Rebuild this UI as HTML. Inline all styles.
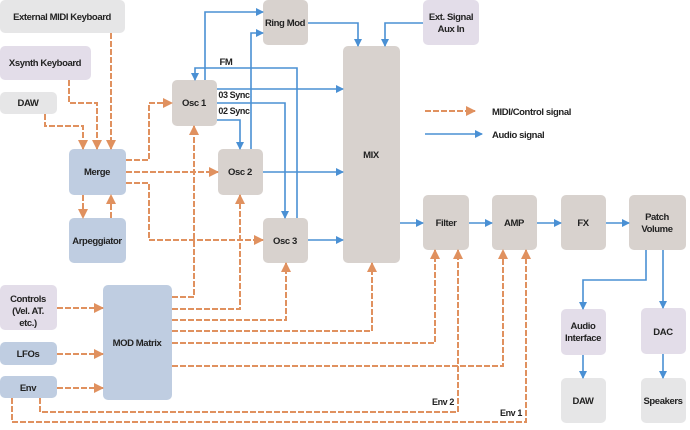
<!DOCTYPE html>
<html><head><meta charset="utf-8"><style>
html,body{margin:0;padding:0;background:#fff;}
svg text{font-family:"Liberation Sans",sans-serif;font-size:9.5px;font-weight:bold;fill:#222;text-anchor:middle;letter-spacing:-0.4px;}
</style></head><body>
<svg width="690" height="425" viewBox="0 0 690 425" xmlns="http://www.w3.org/2000/svg">
<defs>
<marker id="ao" markerWidth="10" markerHeight="10" refX="9" refY="5" orient="auto" markerUnits="userSpaceOnUse"><path d="M0,0 L10,5 L0,10 z" fill="#e0915f"/></marker>
<marker id="ab" markerWidth="8" markerHeight="8" refX="7" refY="4" orient="auto" markerUnits="userSpaceOnUse"><path d="M0,0 L8,4 L0,8 z" fill="#4a90d4"/></marker>
</defs>
<g>
<rect x="0" y="0" width="125" height="33" rx="5" fill="#e6e6e7"/>
<rect x="0" y="46" width="91" height="34" rx="5" fill="#e3dde9"/>
<rect x="0" y="92" width="57" height="22" rx="5" fill="#e6e6e7"/>
<rect x="69" y="149" width="57" height="46" rx="5" fill="#bfcde1"/>
<rect x="69" y="218" width="57" height="45" rx="5" fill="#bfcde1"/>
<rect x="172" y="80" width="45" height="46" rx="5" fill="#d8d2ce"/>
<rect x="218" y="149" width="45" height="46" rx="5" fill="#d8d2ce"/>
<rect x="263" y="0" width="45" height="45" rx="5" fill="#d8d2ce"/>
<rect x="263" y="218" width="45" height="45" rx="5" fill="#d8d2ce"/>
<rect x="343" y="46" width="57" height="217" rx="5" fill="#d8d2ce"/>
<rect x="423" y="0" width="56" height="45" rx="5" fill="#e3dde9"/>
<rect x="423" y="195" width="46" height="55" rx="5" fill="#d8d2ce"/>
<rect x="492" y="195" width="45" height="55" rx="5" fill="#d8d2ce"/>
<rect x="561" y="195" width="45" height="55" rx="5" fill="#d8d2ce"/>
<rect x="629" y="195" width="57" height="55" rx="5" fill="#d8d2ce"/>
<rect x="561" y="309" width="45" height="46" rx="5" fill="#e3dde9"/>
<rect x="641" y="308" width="45" height="46" rx="5" fill="#e3dde9"/>
<rect x="561" y="378" width="45" height="45" rx="5" fill="#e6e6e7"/>
<rect x="641" y="378" width="45" height="45" rx="5" fill="#e6e6e7"/>
<rect x="0" y="285" width="57" height="45" rx="5" fill="#e3dde9"/>
<rect x="0" y="342" width="57" height="23" rx="5" fill="#bfcde1"/>
<rect x="0" y="376" width="57" height="22" rx="5" fill="#bfcde1"/>
<rect x="103" y="285" width="69" height="115" rx="5" fill="#bfcde1"/>
</g>
<g fill="none" stroke="#e0915f" stroke-width="2" stroke-dasharray="6,2" marker-end="url(#ao)">
<path d="M111,33 V149"/>
<path d="M69,80 V103 H97 V149"/>
<path d="M45,114 V126 H83 V149"/>
<path d="M126,160 H149 V103 H172"/>
<path d="M126,172 H218"/>
<path d="M126,183 H149 V240 H263"/>
<path d="M83,195 V218"/>
<path d="M111,218 V195"/>
<path d="M172,297 H194 V126"/>
<path d="M172,309 H240 V195"/>
<path d="M172,320 H286 V263"/>
<path d="M172,331 H372 V263"/>
<path d="M172,343 H435 V250"/>
<path d="M172,366 H503 V250"/>
<path d="M57,308 H103"/>
<path d="M57,354 H103"/>
<path d="M57,388 H103"/>
<path d="M40,398 V412 H458 V250"/>
<path d="M12,398 V422 H526 V250"/>
<path d="M425,111 H475"/>
</g>
<g fill="none" stroke="#4a90d4" stroke-width="1.6" marker-end="url(#ab)">
<path d="M205,80 V12 H263"/>
<path d="M251,149 V33 H263"/>
<path d="M297,218 V68 H195 V80"/>
<path d="M217,89 H343"/>
<path d="M217,103 H285 V218"/>
<path d="M217,120 H240 V149"/>
<path d="M263,172 H343"/>
<path d="M308,240 H343"/>
<path d="M308,23 H358 V46"/>
<path d="M423,23 H385 V46"/>
<path d="M400,223 H423"/>
<path d="M469,223 H492"/>
<path d="M537,223 H561"/>
<path d="M606,223 H629"/>
<path d="M646,250 V280 H583 V309"/>
<path d="M663,250 V308"/>
<path d="M583,355 V378"/>
<path d="M663,354 V378"/>
<path d="M425,134 H482"/>
</g>
<text x="62" y="20">External MIDI Keyboard</text>
<text x="45" y="66">Xsynth Keyboard</text>
<text x="28" y="106">DAW</text>
<text x="97" y="175">Merge</text>
<text x="97" y="244">Arpeggiator</text>
<text x="194" y="106">Osc 1</text>
<text x="240" y="175">Osc 2</text>
<text x="285" y="26">Ring Mod</text>
<text x="285" y="244">Osc 3</text>
<text x="371" y="158">MIX</text>
<text x="451" y="20">Ext. Signal</text>
<text x="451" y="32">Aux In</text>
<text x="446" y="226">Filter</text>
<text x="514" y="226">AMP</text>
<text x="583" y="226">FX</text>
<text x="657" y="220">Patch</text>
<text x="657" y="232">Volume</text>
<text x="583" y="329">Audio</text>
<text x="583" y="341">Interface</text>
<text x="663" y="335">DAC</text>
<text x="583" y="404">DAW</text>
<text x="663" y="404">Speakers</text>
<text x="28" y="302">Controls</text>
<text x="28" y="314">(Vel. AT.</text>
<text x="28" y="326">etc.)</text>
<text x="28" y="357">LFOs</text>
<text x="28" y="391">Env</text>
<text x="137" y="346">MOD Matrix</text>
<text x="226" y="65" font-weight="normal">FM</text>
<text x="234" y="98" style="font-size:9px">03 Sync</text>
<text x="234" y="114" style="font-size:9px">02 Sync</text>
<text x="443" y="405" style="font-size:9px">Env 2</text>
<text x="511" y="416" style="font-size:9px">Env 1</text>
<text x="492" y="115" style="text-anchor:start">MIDI/Control signal</text>
<text x="492" y="138" style="text-anchor:start">Audio signal</text>
</svg>
</body></html>
